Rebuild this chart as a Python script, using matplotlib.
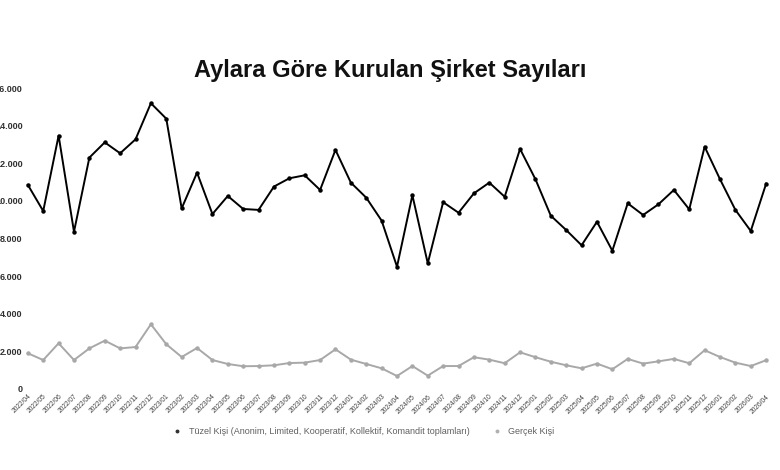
import numpy as np
import matplotlib.pyplot as plt
from matplotlib.ticker import FuncFormatter
from matplotlib.lines import Line2D

# monthly labels 2022/04 .. 2026/04
months = ['2022/04', '2022/05', '2022/06', '2022/07', '2022/08', '2022/09', '2022/10', '2022/11', '2022/12',
          '2023/01', '2023/02', '2023/03', '2023/04', '2023/05', '2023/06', '2023/07', '2023/08', '2023/09',
          '2023/10', '2023/11', '2023/12', '2024/01', '2024/02', '2024/03', '2024/04', '2024/05', '2024/06',
          '2024/07', '2024/08', '2024/09', '2024/10', '2024/11', '2024/12', '2025/01', '2025/02', '2025/03',
          '2025/04', '2025/05', '2025/06', '2025/07', '2025/08', '2025/09', '2025/10', '2025/11', '2025/12',
          '2026/01', '2026/02', '2026/03', '2026/04']

tuzel = [10850, 9460, 13470, 8360, 12300, 13110, 12530, 13270, 15190, 14370,
         9600, 11500, 9300, 10260, 9570, 9520, 10760, 11200, 11360, 10580,
         12710, 10970, 10170, 8950, 6500, 10300, 6680, 9930, 9370, 10400,
         10970, 10220, 12760, 11150, 9210, 8450, 7640, 8890, 7350, 9870,
         9250, 9820, 10580, 9550, 12880, 11150, 9520, 8400, 10920]

gercek = [1900, 1540, 2430, 1540, 2160, 2570, 2160, 2230, 3440, 2380,
          1700, 2180, 1540, 1330, 1210, 1220, 1260, 1380, 1400, 1540,
          2110, 1560, 1330, 1100, 690, 1220, 710, 1220, 1220, 1690,
          1560, 1370, 1950, 1690, 1450, 1260, 1100, 1350, 1050, 1600,
          1350, 1470, 1600, 1370, 2060, 1700, 1400, 1220, 1530]

x = np.arange(len(months))

plt.rcParams['font.family'] = ['Liberation Sans', 'DejaVu Sans']

fig = plt.figure(figsize=(7.8, 4.7), dpi=100)
ax = fig.add_axes([24/780, 81/470, 746/780, 301/470])

ax.plot(x, tuzel, color='black', lw=1.4, marker='o', ms=2.2)
ax.plot(x, gercek, color='#a8a8a8', lw=1.4, marker='o', ms=2.2)

ax.set_xlim(-0.25, 48.25)
ax.set_ylim(0, 16000)
ax.set_yticks(np.arange(0, 16001, 2000))
ax.yaxis.set_major_formatter(FuncFormatter(lambda v, p: f'{int(v):,}'.replace(',', '.')))
ax.set_xticks(x)
ax.set_xticklabels(months, rotation=45, ha='right', rotation_mode='anchor', fontsize=4.8, color='#404040')
ax.tick_params(axis='y', labelsize=6.5, colors='#303030', length=0, pad=1)
ax.tick_params(axis='x', length=0, pad=3)
for lab in ax.get_yticklabels():
    lab.set_fontweight('bold')
for s in ax.spines.values():
    s.set_visible(False)

fig.text(0.5, 1 - 70/470, 'Aylara Göre Kurulan Şirket Sayıları', ha='center', va='center',
         fontsize=17, fontweight='bold', color='#111111')

handles = [Line2D([], [], ls='none', marker='o', ms=1.8, color='#333333'),
           Line2D([], [], ls='none', marker='o', ms=1.8, color='#b0b0b0')]
fig.legend(handles, ['Tüzel Kişi (Anonim, Limited, Kooperatif, Kollektif, Komandit toplamları)', 'Gerçek Kişi'],
           loc='center', bbox_to_anchor=(0.466, 1 - 432/470), ncol=2, frameon=False,
           fontsize=6.5, labelcolor='#606060', handlelength=1, handletextpad=0.8, columnspacing=2.5)

fig.savefig('out.png', dpi=100)
